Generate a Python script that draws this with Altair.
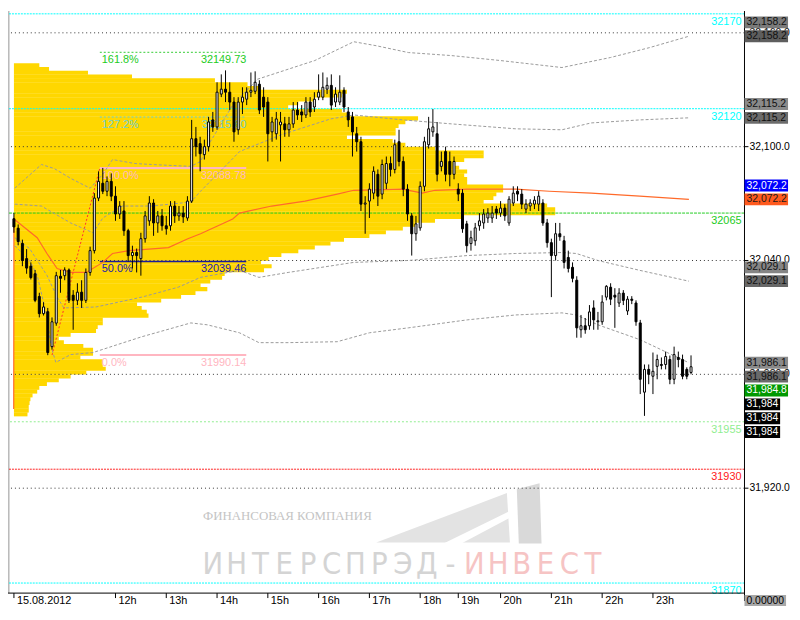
import altair as alt
import pandas as pd

# ---------------- data ----------------
bar_open = [32062, 32057, 32049, 32041, 32037, 32033, 32021, 32012, 32013, 31994.6,
            32007, 32031.7, 32032, 32035, 32021.7, 32019, 32023.3, 32019, 32033.7, 32045.2,
            32072.9, 32080.7, 32076.5, 32081.7, 32073.9, 32064.5, 32066.1, 32055.7, 32042.6, 32044.2,
            32041, 32051.5, 32060.9, 32070.3, 32059.8, 32063.5, 32058.3, 32058.3, 32068.7, 32063.5,
            32065, 32062.4, 32071.3, 32104.2, 32101.6, 32095.8, 32100, 32114.1, 32110.4, 32127.7,
            32130.3, 32128.7, 32123.5, 32108.9, 32123.5, 32125, 32128.7, 32129.2, 32132.9, 32126.1,
            32123.5, 32107.8, 32106.8, 32111.5, 32112, 32108.9, 32112, 32119.3, 32118.3, 32116.7,
            32123.5, 32120.9, 32126.1, 32126.1, 32130.3, 32132.3, 32123.5, 32123.5, 32129.7, 32118.3,
            32115.7, 32106.8, 32102.6, 32069.7, 32071.3, 32075.5, 32085.4, 32075, 32080.7, 32091.1,
            32088, 32102.6, 32092.2, 32077.6, 32063.5, 32054.1, 32057.2, 32079.1, 32101, 32107.8,
            32106.8, 32089.6, 32097.4, 32092.2, 32085.4, 32077.6, 32075.5, 32059.3, 32048.9, 32050.4,
            32058.3, 32059.8, 32062.4, 32062.4, 32067.1, 32065, 32067.6, 32059.8, 32070.3, 32076.5,
            32075, 32067.1, 32068.7, 32069.7, 32069.7, 32070.3, 32059.8, 32049.4, 32042.6, 32054.1,
            32050.4, 32041.6, 32036.4, 32029.6, 32003.5, 32005.6, 32005.6, 32015, 32007.7, 32007.7,
            32020.7, 32025.9, 32021.7, 32017.6, 32022.8, 32013.4, 32019.6, 32017.6, 32007.1, 31970.6,
            31982.6, 31979, 31984.2, 31985.2, 31985.2, 31987.8, 31977.4, 31988.9, 31987.8, 31982.6,
            31981]
bar_high = [32065, 32059, 32051, 32046, 32039, 32035, 32023, 32018, 32015, 32010,
            32034, 32035, 32036.4, 32035.8, 32024.4, 32028, 32029.6, 32035.8, 32047.3, 32075.5,
            32087, 32088.8, 32084.3, 32085.9, 32079.1, 32071.3, 32071.3, 32056.7, 32047.8, 32046.3,
            32054.6, 32066.1, 32073.9, 32072.3, 32066.1, 32067.1, 32063.5, 32071.3, 32071.3, 32068.7,
            32068.7, 32073.9, 32114.1, 32110.4, 32105.2, 32103.7, 32115.7, 32118.3, 32133.9, 32138.1,
            32140.2, 32133.9, 32126.1, 32126.1, 32131.3, 32131.3, 32139.1, 32139.7, 32135, 32131.3,
            32126.1, 32115.7, 32118.3, 32118.3, 32115.7, 32115.7, 32123.5, 32123.5, 32121.9, 32126.1,
            32126.1, 32128.7, 32138.1, 32139.1, 32136.5, 32138.1, 32131.3, 32137.6, 32131.3, 32120.9,
            32118.3, 32110.4, 32105.2, 32073.9, 32080.7, 32089.6, 32088, 32093.2, 32094.8, 32094.8,
            32103.7, 32108.9, 32094.8, 32080.2, 32065, 32063.5, 32081.7, 32105.2, 32115.7, 32119.8,
            32113, 32097.4, 32100, 32097.4, 32094.8, 32080.7, 32077.6, 32060.9, 32055.7, 32059.8,
            32065, 32067.1, 32067.6, 32068.7, 32068.7, 32071.3, 32069.7, 32073.9, 32079.1, 32079.1,
            32077.6, 32072.3, 32072.3, 32073.9, 32076.5, 32072.3, 32061.9, 32051.5, 32059.8, 32059.8,
            32053, 32045.2, 32039, 32031.7, 32011.3, 32009.7, 32016.5, 32019, 32012.9, 32021.7,
            32027, 32028, 32025.4, 32025.4, 32024.4, 32021.2, 32021.2, 32019, 32008.7, 31985.2,
            31985.2, 31991.5, 31990.4, 31988.9, 31992, 31989.9, 31994.6, 31992, 31990.4, 31983.7,
            31990]
bar_low = [32054.6, 32048, 32037, 32033, 32030, 32018, 32010, 32011, 31990.1, 31993,
           32005.6, 32023, 32029.6, 32017.6, 32003.5, 32016.5, 32015, 32017.6, 32032, 32043.7,
           32071.3, 32075, 32073.9, 32071.3, 32060.9, 32061.9, 32053, 32039.5, 32035.8, 32033.7,
           32032, 32049.4, 32058.3, 32053, 32054.6, 32055.7, 32053.6, 32055.7, 32059.8, 32060.9,
           32059.8, 32060.9, 32070.3, 32094.8, 32087, 32093.2, 32097.4, 32107.8, 32108.9, 32126.1,
           32123.5, 32119.3, 32102.6, 32106.3, 32117.2, 32121.9, 32126.1, 32127.7, 32117.2, 32115.7,
           32092.2, 32102.6, 32103.7, 32092.2, 32105.2, 32105.2, 32109.9, 32114.1, 32113, 32115.1,
           32115.7, 32118.3, 32124.5, 32124.5, 32127.7, 32119.3, 32120.9, 32121.9, 32118.3, 32110.4,
           32094.8, 32097.4, 32066.1, 32054.1, 32062.4, 32072.3, 32068.7, 32072.3, 32077.6, 32084.3,
           32085.9, 32089.6, 32073.9, 32060.9, 32042.6, 32050.4, 32055.7, 32076.5, 32099, 32105.2,
           32081.7, 32087, 32081.7, 32079.1, 32082.8, 32071.3, 32054.6, 32044.2, 32045.2, 32047.8,
           32055.7, 32056.7, 32059.8, 32059.8, 32061.9, 32063, 32060.9, 32058.3, 32068.7, 32071.3,
           32067.1, 32065, 32066.1, 32067.1, 32066.1, 32058.3, 32046.8, 32020.7, 32040, 32050.4,
           32035.8, 32033.7, 32028.5, 31999.3, 31999.3, 32001.4, 32003.5, 32003.5, 32003.5, 32006.1,
           32019, 32016.5, 32004.5, 32015.5, 32016.5, 32011.3, 32017, 32005.6, 31969.6, 31958.1,
           31974.8, 31969.6, 31977.4, 31982.6, 31982.6, 31974.8, 31974.8, 31983.7, 31977.4, 31977.4,
           31980]
bar_close = [32057.7, 32050, 32040, 32036, 32031, 32019, 32012, 32015.5, 31991.5, 32007.7,
             32032, 32030.6, 32035, 32019, 32019, 32023.3, 32019, 32033.7, 32045.2, 32072.9,
             32081.7, 32076.5, 32081.7, 32073.9, 32064.5, 32068.7, 32055.7, 32042.6, 32044.2, 32042.6,
             32051.5, 32063.5, 32070.3, 32059.8, 32063.5, 32058.3, 32056.7, 32068.7, 32063.5, 32065,
             32063, 32071.3, 32104.2, 32100, 32096.3, 32100, 32113, 32110.4, 32128.7, 32130.3,
             32128.7, 32123.5, 32107.8, 32123.5, 32126.1, 32128.7, 32129.7, 32133.9, 32119.3, 32120.9,
             32106.8, 32113, 32114.6, 32113, 32108.9, 32112, 32119.3, 32116.7, 32116.7, 32123.5,
             32118.3, 32125, 32128.7, 32131.3, 32132.3, 32121.9, 32127.7, 32128.7, 32120.9, 32114.1,
             32107.8, 32102.6, 32069.7, 32070.3, 32077.6, 32087, 32073.9, 32090.6, 32091.1, 32088,
             32101, 32092.2, 32077.6, 32064.5, 32054.1, 32059.3, 32079.1, 32102.6, 32109.4, 32110.4,
             32085.4, 32092.2, 32085.4, 32085.4, 32092.2, 32075, 32056.7, 32047.8, 32052, 32057.2,
             32060.9, 32064.5, 32065, 32065, 32065, 32067.6, 32063.5, 32072.3, 32075.5, 32075,
             32069.7, 32069.7, 32070.3, 32071.8, 32073.9, 32059.8, 32049.4, 32042.6, 32054.1, 32052.5,
             32039, 32035.8, 32030.6, 32004.5, 32005.6, 32003.5, 32012.9, 32008.7, 32008.2, 32018.1,
             32026.4, 32019.6, 32020.7, 32022.8, 32019, 32019.6, 32019, 32007.7, 31977.4, 31982.6,
             31980, 31981.6, 31987.8, 31984.7, 31989.4, 31977.4, 31990.4, 31987.8, 31979, 31979,
             31984]

# moving average (orange) and the four dashed bands: (bar index, price)
ma_idx = [-0.05, 0.0, 5.5, 7.8, 10.2, 13.4, 17.1, 21.0, 23.3, 27.2, 36.5, 41.1, 44.1, 51.7, 53.3,
          60.9, 68.8, 76.4, 80.3, 91.9, 96.5, 99.5, 107.1, 118.6, 126.5, 136.4, 147.9, 159.5]
ma_val = [31961.7, 32061.9, 32052.0, 32043.7, 32035.8, 32033.7, 32033.7, 32039.0, 32043.7, 32045.2,
          32046.8, 32051.5, 32054.1, 32061.9, 32065.0, 32068.7, 32071.3, 32075.0, 32077.0, 32077.6,
          32075.5, 32077.0, 32077.6, 32077.6, 32076.5, 32075.5, 32073.9, 32072.2]

u2_idx = [0.2, 6.5, 9.5, 13.4, 18.0, 21.0, 23.3, 28.6, 32.5, 41.8, 44.1, 46.4, 51.7, 57.5, 71.1,
          80.3, 85.6, 93.2, 103.4, 114.9, 129.5, 141.0, 150.2, 159.5]
u2_val = [32078.1, 32090.6, 32088.5, 32083.3, 32078.1, 32085.4, 32093.2, 32091.1, 32090.6, 32089.6,
          32092.2, 32102.6, 32121.9, 32135.5, 32145.4, 32155.3, 32153.2, 32149.6, 32148.0, 32145.4,
          32141.7, 32147.0, 32152.2, 32158.2]
u1_idx = [0.2, 6.5, 13.4, 18.7, 21.0, 25.6, 32.5, 41.8, 44.1, 51.7, 53.3, 63.2, 74.8, 80.3, 91.9,
          103.4, 118.6, 129.5, 136.4, 147.9, 159.5]
u1_val = [32069.7, 32068.7, 32059.8, 32054.6, 32062.4, 32068.7, 32068.7, 32070.8, 32076.5, 32093.7,
          32097.4, 32106.3, 32114.6, 32116.7, 32114.1, 32112.0, 32109.4, 32108.9, 32112.5, 32114.1,
          32115.2]
l1_idx = [0.2, 3.7, 7.8, 10.2, 11.8, 19.4, 30.2, 38.8, 44.1, 53.3, 57.9, 64.8, 80.3, 93.2, 107.1,
          118.6, 129.5, 132.9, 138.0, 147.9, 159.5]
l1_val = [32052.0, 32046.3, 32032.2, 32020.7, 32015.0, 32015.5, 32020.7, 32025.9, 32031.1, 32034.8,
          32031.1, 32033.7, 32039.0, 32040.0, 32042.6, 32043.7, 32044.2, 32043.7, 32040.0, 32034.8,
          32029.1]
l2_idx = [0.2, 3.7, 5.5, 7.8, 8.8, 9.9, 13.4, 18.7, 30.2, 41.8, 45.7, 53.3, 57.9, 64.8, 76.4,
          84.0, 93.2, 107.1, 118.6, 129.5, 132.9, 138.0, 147.9, 159.5]
l2_val = [32047.8, 32040.0, 32032.2, 32010.3, 31994.6, 31986.3, 31990.4, 31991.5, 31999.8, 32007.1,
          32006.1, 32001.9, 31996.7, 31996.7, 31997.2, 32001.9, 32004.5, 32008.7, 32011.3, 32012.4,
          32011.3, 32006.1, 31998.3, 31986.1]

# volume profile: bins of 2 points from the top price down, length in bars
profile_top = 32144
profile_step = 2
profile_len = [6.0, 8.3, 17.5, 27.9, 47.5, 55.2, 58.4, 78.7, 77.5, 71.1,
               67.2, 64.8, 77.5, 78.7, 95.5, 92.5, 90.9, 90.2, 90.2, 78.7,
               89.5, 92.5, 99.5, 111, 111, 106.4, 104, 105.2, 107.1, 106.4,
               107.1, 107.1, 115.6, 115.6, 114, 113.3, 111, 126, 127.9, 127.9,
               105.7, 99.5, 94.9, 91.9, 87.9, 84, 78, 74.8, 71.1, 67.2,
               63.2, 60.2, 58.4, 60.9, 59.1, 49.8, 49.2, 46.4, 44.1, 45.7,
               42.9, 39.5, 34.8, 29.1, 30.2, 31.4, 31.8, 21, 21, 19.8,
               19.4, 13.4, 10.6, 11.8, 16.4, 18.7, 18.7, 15.7, 21, 21,
               21.7, 17.1, 13.4, 10.6, 7.8, 6, 5.5, 4.4, 3.9, 3.7,
               3.5, 3.5, 3.2]

grid_prices = [32160, 32100, 32040, 31980, 31920]
level_prices = [32170, 32120, 32065, 31955, 31930, 31870]
level_labels = ["32170", "32120", "32065", "31955", "31930", "31870"]

fib_names = ["161.8%", "127.2%", "100.0%", "50.0%", "0.0%"]
fib_prices = [32149.73, 32115.60, 32088.78, 32039.46, 31990.14]
fib_from, fib_to = 20.3, 54.9
fib_diag_idx = [9.0, 20.3]
fib_diag_val = [31990.14, 32088.78]

xtick_idx = [0, 24, 36, 48, 60, 72, 84, 96, 105, 115, 127, 139, 151]
xtick_lab = ["15.08.2012", "12h", "13h", "14h", "15h", "16h", "17h", "18h", "19h", "20h",
             "21h", "22h", "23h"]

box_text = ["32,158.2", "32,158.2", "32,115.2", "32,115.2", "32,072.2", "32,072.2",
            "32,029.1", "32,029.1", "31,986.1", "31,986.1", "31,984.8", "31,984", "31,984", "31,984"]
box_value = [32158.2, 32158.2, 32115.2, 32115.2, 32072.2, 32072.2, 32029.1, 32029.1,
             31986.1, 31986.1, 31984.8, 31984, 31984, 31984]
box_stack = ["up", "own", "up", "own", "up", "own", "up", "own",
             "own", "below", "below", "below", "below", "below"]

wm_small = "ФИНАНСОВАЯ КОМПАНИЯ"
wm_big = "ИНТЕРСПРЭД-ИНВЕСТ"

# ---------------- styles / layout ----------------
FONT = "Liberation Sans"
W, H = 744, 588
PX_PT = 1.9167
PX_BAR = 4.3333
Y_TOP = 32100 + (145 - 8) / PX_PT
Y_BOT = Y_TOP - H / PX_PT
X_LEFT = -1 / PX_BAR
X_RIGHT = X_LEFT + W / PX_BAR

level_colors = ["#00FFFF", "#00FFFF", "#22CC22", "#90EE90", "#FF2020", "#00FFFF"]
level_dash = [[2, 1], [2, 1], [3, 1], [2, 2], [2, 1], [2, 1]]
fib_line_colors = ["#33CC33", "#66CCCC", "#FFB6C1", "#1A1A9A", "#FFB6C1"]
fib_text_colors = ["#22CC22", "#70CFCF", "#FFB6C1", "#1A1AB0", "#FFB6C1"]
fib_dash = [[2, 2], [2, 2], [1, 0], [1, 0], [1, 0]]
fib_width = [1, 1, 2, 1.5, 2]
box_fill = ["#7a7a7a", "#5e5e5e", "#8a8a8a", "#6c6c6c", "#0000FF", "#FF5A1E",
            "#858585", "#686868", "#8a8a8a", "#6a6a6a", "#009900", "#000000", "#000000", "#000000"]
box_tcol = ["#111111", "#111111", "#111111", "#111111", "#FFFFFF", "#1a1a1a",
            "#111111", "#111111", "#111111", "#111111", "#FFFFFF", "#FFFFFF", "#FFFFFF", "#FFFFFF"]

xs = alt.Scale(domain=[X_LEFT, X_RIGHT], nice=False, zero=False)
ys = alt.Scale(domain=[Y_BOT, Y_TOP], nice=False, zero=False)


def X(f):
    return alt.X(f, type="quantitative", scale=xs, axis=None)


def Y(f):
    return alt.Y(f, type="quantitative", scale=ys, axis=None)


one = pd.DataFrame({"k": [0]})
layers = []

# ---- watermark ----
layers.append(alt.Chart(one).mark_text(text=wm_small, font="Liberation Serif", fontSize=13,
                                       color="#C4C4C4", align="left", baseline="middle")
              .encode(x=alt.value(197), y=alt.value(510)))
for k, ch in enumerate(wm_big):
    col = "#D4D4D4" if k < 11 else "#F6C4C4"
    layers.append(alt.Chart(one).mark_text(text=ch, font="DejaVu Sans Condensed, DejaVu Sans",
                                           fontSize=31, color=col, align="center",
                                           baseline="middle")
                  .encode(x=alt.value(207 + 24 * k), y=alt.value(560)))


def logo_path(points, cx, cy, r):
    parts = []
    for poly in points:
        s = "M " + " L ".join(f"{(px - cx) / r:.4f} {(py - cy) / r:.4f}" for px, py in poly) + " Z"
        parts.append(s)
    return " ".join(parts)


LCX, LCY, LR = 457, 507, 90
logo_grey = [[(372, 537), (504, 487), (507, 537)]]
logo_dark = [[(514, 483), (537, 477), (539, 538), (516, 538)]]
logo_white = [[(440, 538), (507, 505), (507, 512), (458, 538)]]
for polys, col in [(logo_grey, "#E3E3E3"), (logo_dark, "#D9D9D9"), (logo_white, "#FFFFFF")]:
    layers.append(alt.Chart(one).mark_point(shape=logo_path(polys, LCX, LCY, LR), filled=True,
                                            size=(2 * LR) ** 2, color=col, opacity=1,
                                            strokeWidth=0)
                  .encode(x=alt.value(LCX), y=alt.value(LCY)))

# ---- volume profile ----
pdf = pd.DataFrame({"top": [profile_top - profile_step * k for k in range(len(profile_len))],
                    "len": profile_len})
pdf["bot"] = pdf["top"] - profile_step - 0.15
pdf["x0"] = 0.0
layers.append(alt.Chart(pdf).mark_rect(color="#FFD700", clip=True)
              .encode(x=X("x0"), x2="len", y=Y("top"), y2="bot"))

# ---- grid ----
gdf = pd.DataFrame({"p": grid_prices})
layers.append(alt.Chart(gdf).mark_rule(color="#333333", strokeDash=[1, 3], strokeWidth=1)
              .encode(y=Y("p")))

# ---- day separator ----
layers.append(alt.Chart(one).mark_rule(color="#B8B8B8", strokeWidth=1.5)
              .encode(x=alt.value(0.8), y=alt.value(0), y2=alt.value(H)))

# ---- horizontal levels ----
for p, lab, col, dsh in zip(level_prices, level_labels, level_colors, level_dash):
    d = pd.DataFrame({"p": [p], "lab": [lab]})
    layers.append(alt.Chart(d).mark_rule(color=col, strokeDash=dsh, strokeWidth=1)
                  .encode(y=Y("p")))
    layers.append(alt.Chart(d).mark_text(color=col, font=FONT, fontSize=11, align="right",
                                         baseline="top", dy=2)
                  .encode(x=alt.value(W - 3), y=Y("p"), text="lab:N"))

# ---- fibonacci ----
for nm, p, lc, tc, dsh, sw in zip(fib_names, fib_prices, fib_line_colors, fib_text_colors,
                                  fib_dash, fib_width):
    d = pd.DataFrame({"p": [p], "a": [fib_from], "b": [fib_to], "nm": [nm],
                      "val": [f"{p:.2f}"]})
    if dsh[1] == 0:
        rule = alt.Chart(d).mark_rule(color=lc, strokeWidth=sw)
    else:
        rule = alt.Chart(d).mark_rule(color=lc, strokeWidth=sw, strokeDash=dsh)
    layers.append(rule.encode(x=X("a"), x2="b", y=Y("p")))
    layers.append(alt.Chart(d).mark_text(color=tc, font=FONT, fontSize=11, align="left",
                                         baseline="top", dy=2, dx=2)
                  .encode(x=X("a"), y=Y("p"), text="nm:N"))
    layers.append(alt.Chart(d).mark_text(color=tc, font=FONT, fontSize=11, align="right",
                                         baseline="top", dy=2)
                  .encode(x=X("b"), y=Y("p"), text="val:N"))

# ---- bands and moving average ----
bdf = pd.concat([
    pd.DataFrame({"band": "u2", "i": u2_idx, "p": u2_val}),
    pd.DataFrame({"band": "u1", "i": u1_idx, "p": u1_val}),
    pd.DataFrame({"band": "l1", "i": l1_idx, "p": l1_val}),
    pd.DataFrame({"band": "l2", "i": l2_idx, "p": l2_val}),
])
layers.append(alt.Chart(bdf).mark_line(color="#9A9A9A", strokeDash=[3, 2], strokeWidth=1,
                                       clip=True)
              .encode(x=X("i"), y=Y("p"), detail="band:N"))
mdf = pd.DataFrame({"i": ma_idx, "p": ma_val})
layers.append(alt.Chart(mdf).mark_line(color="#FF6A2A", strokeWidth=1.2, clip=True)
              .encode(x=X("i"), y=Y("p")))

ddf = pd.DataFrame({"i": fib_diag_idx, "p": fib_diag_val})
layers.append(alt.Chart(ddf).mark_line(color="#FF3030", strokeDash=[2, 2], strokeWidth=1)
              .encode(x=X("i"), y=Y("p")))

# ---- candles ----
cdf = pd.DataFrame({"i": list(range(len(bar_open))), "o": bar_open, "h": bar_high,
                    "l": bar_low, "c": bar_close})
layers.append(alt.Chart(cdf).mark_rule(color="black", strokeWidth=1)
              .encode(x=X("i"), y=Y("l"), y2="h"))
layers.append(alt.Chart(cdf).mark_bar(size=2, stroke="black", strokeWidth=1)
              .encode(x=X("i"), y=Y("o"), y2="c",
                      fill=alt.condition("datum.c >= datum.o", alt.value("white"),
                                         alt.value("black"))))

# ---- frame ----
layers.append(alt.Chart(one).mark_rule(color="black", strokeWidth=1)
              .encode(x=alt.value(W), y=alt.value(0), y2=alt.value(H + 8)))
layers.append(alt.Chart(one).mark_rule(color="black", strokeWidth=1)
              .encode(x=alt.value(0), x2=alt.value(W), y=alt.value(H)))

# ---- x axis ----
xdf = pd.DataFrame({"i": xtick_idx, "lab": xtick_lab})
layers.append(alt.Chart(xdf).mark_rule(color="black", strokeWidth=1)
              .encode(x=X("i"), y=alt.value(H), y2=alt.value(H + 5)))
layers.append(alt.Chart(xdf).mark_text(font=FONT, fontSize=11, color="black", align="left",
                                       baseline="top", dx=3)
              .encode(x=X("i"), y=alt.value(H + 2), text="lab:N"))

# ---- y axis ----
ydf = pd.DataFrame({"p": grid_prices, "lab": [f"{v:,.1f}" for v in grid_prices]})
layers.append(alt.Chart(ydf).mark_rule(color="black", strokeWidth=1)
              .encode(x=alt.value(W), x2=alt.value(W + 4), y=Y("p")))
layers.append(alt.Chart(ydf).mark_text(font=FONT, fontSize=10.5, color="black", align="left",
                                       baseline="middle")
              .encode(x=alt.value(W + 5), y=Y("p"), text="lab:N"))

# ---- price boxes ----
step = 14 / PX_PT
half = 6 / PX_PT
disp = []
for v, s in zip(box_value, box_stack):
    if s == "up":
        disp.append(v + step)
    elif s == "own":
        disp.append(v)
    else:
        disp.append(disp[-1] - step)
kdf = pd.DataFrame({"t": box_text, "d": disp, "fill": box_fill, "tc": box_tcol})
kdf["top"] = kdf["d"] + half
kdf["bot"] = kdf["d"] - half
wide = kdf[kdf["fill"] != "#000000"]
narrow = kdf[kdf["fill"] == "#000000"]
layers.append(alt.Chart(wide).mark_rect()
              .encode(x=alt.value(W), x2=alt.value(W + 44), y=Y("top"), y2="bot",
                      fill=alt.Fill("fill:N", scale=None)))
layers.append(alt.Chart(narrow).mark_rect()
              .encode(x=alt.value(W), x2=alt.value(W + 36), y=Y("top"), y2="bot",
                      fill=alt.Fill("fill:N", scale=None)))
layers.append(alt.Chart(kdf).mark_text(font=FONT, fontSize=10.5, align="left", baseline="middle")
              .encode(x=alt.value(W + 2), y=Y("d"), text="t:N",
                      color=alt.Color("tc:N", scale=None)))
layers.append(alt.Chart(one).mark_rect(color="#A8A8A8")
              .encode(x=alt.value(W), x2=alt.value(W + 42), y=alt.value(H + 2),
                      y2=alt.value(H + 13)))
layers.append(alt.Chart(one).mark_text(text="0.00000", font=FONT, fontSize=10.5, color="black",
                                       align="left", baseline="middle")
              .encode(x=alt.value(W + 2), y=alt.value(H + 8)))

chart = alt.layer(*layers).properties(
    width=W, height=H,
    padding={"left": 0, "top": 0, "right": 48, "bottom": 14},
    autosize=alt.AutoSizeParams(type="none"),
    background="white",
).configure_view(stroke=None)

chart.save("out.html", embed_options={"renderer": "svg", "actions": False})
